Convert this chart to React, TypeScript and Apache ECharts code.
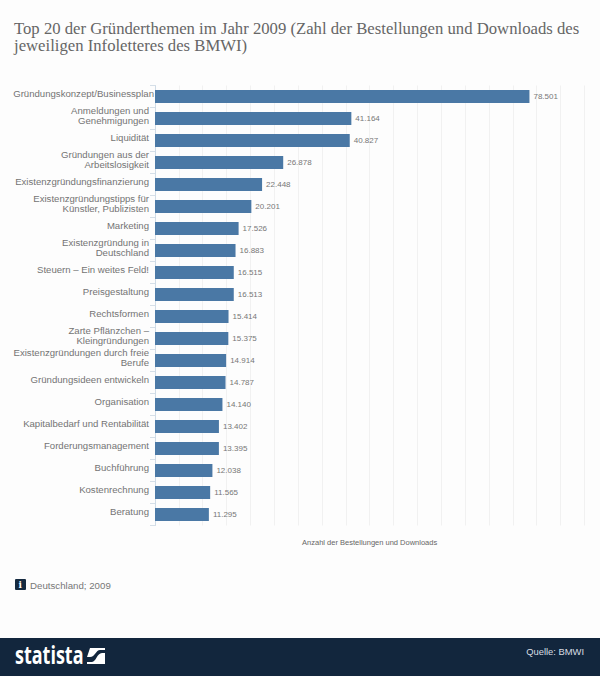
import React, { useEffect, useRef } from "react";
import * as echarts from "echarts";

const categories = [
  "Gründungskonzept/Businessplan",
  "Anmeldungen und\nGenehmigungen",
  "Liquidität",
  "Gründungen aus der\nArbeitslosigkeit",
  "Existenzgründungsfinanzierung",
  "Existenzgründungstipps für\nKünstler, Publizisten",
  "Marketing",
  "Existenzgründung in\nDeutschland",
  "Steuern – Ein weites Feld!",
  "Preisgestaltung",
  "Rechtsformen",
  "Zarte Pflänzchen –\nKleingründungen",
  "Existenzgründungen durch freie\nBerufe",
  "Gründungsideen entwickeln",
  "Organisation",
  "Kapitalbedarf und Rentabilität",
  "Forderungsmanagement",
  "Buchführung",
  "Kostenrechnung",
  "Beratung",
];
const values = [
  78501, 41164, 40827, 26878, 22448, 20201, 17526, 16883, 16515, 16513, 15414,
  15375, 14914, 14787, 14140, 13402, 13395, 12038, 11565, 11295,
];
const titleLines = [
  "Top 20 der Gründerthemen im Jahr 2009 (Zahl der Bestellungen und Downloads des",
  "jeweiligen Infoletteres des BMWI)",
];
const axisName = "Anzahl der Bestellungen und Downloads";
const footnote = "Deutschland; 2009";
const source = "Quelle: BMWI";

const fmt = (v: number) => {
  const s = String(v);
  return s.slice(0, -3) + "." + s.slice(-3);
};

echarts.graphic.registerShape(
  "statistaLogo",
  echarts.graphic.extendPath(
    "M3 0L18 0L18 2L13 2C9 2 8 9 3 9L0 9ZM18 5L18 16L0 16L0 14L5 14C9 14 10 5 15 5Z",
    {}
  ) as any
);

export default function App() {
  const ref = useRef<HTMLDivElement>(null);
  useEffect(() => {
    const chart = echarts.init(ref.current!, null, { renderer: "svg" });
    chart.setOption({
      animation: false,
      backgroundColor: "#fdfdfd",
      grid: { left: 155, top: 85.5, width: 429.3, height: 440, containLabel: false, outerBoundsMode: "none" },
      xAxis: {
        type: "value",
        min: 0,
        max: 90000,
        interval: 5000,
        name: axisName,
        nameLocation: "middle",
        nameGap: 13,
        nameTextStyle: { fontFamily: "Liberation Sans", fontSize: 7.5, color: "#666666" },
        axisLabel: { show: false },
        axisTick: { show: false },
        axisLine: { show: false },
        splitLine: { show: true, lineStyle: { color: "#f1f1f1", width: 1 } },
      },
      yAxis: {
        type: "category",
        inverse: true,
        data: categories,
        axisLine: { show: true, lineStyle: { color: "#cfdbe6", width: 1 } },
        axisTick: { show: true, length: 5, lineStyle: { color: "#d5dfe8" } },
        axisLabel: {
          margin: 1,
          fontFamily: "Liberation Sans",
          fontSize: 9.6,
          color: "#747474",
          lineHeight: 10,
          padding: [0, 0, 7, 0],
          formatter: (v: string, i: number) =>
            i === 0 ? `{f|${v}}` : v.split("\n").map((l) => `{a|${l}}`).join("\n"),
          rich: {
            f: { fontFamily: "Liberation Sans", fontSize: 9.6, color: "#747474", lineHeight: 10 },
            a: { fontFamily: "Liberation Sans", fontSize: 9.6, color: "#747474", lineHeight: 10, padding: [0, 5, 0, 0] },
          },
        },
      },
      series: [
        {
          type: "bar",
          data: values,
          barWidth: 13,
          itemStyle: { color: "#4a78a5" },
          label: {
            show: true,
            position: "right",
            distance: 4,
            fontFamily: "Liberation Sans",
            fontSize: 8,
            color: "#777777",
            formatter: (p: any) => fmt(p.value),
          },
        },
      ],
      graphic: [
        { type: "text", x: 14, y: 20, style: { text: titleLines.join("\n"), font: '16.7px "Liberation Serif"', lineHeight: 17, fill: "#666666" } },
        { type: "rect", shape: { x: 15, y: 579, width: 11, height: 11, r: 1 }, style: { fill: "#152a40" } },
        { type: "text", x: 18.5, y: 580, style: { text: "i", font: 'bold 9px "DejaVu Serif"', fill: "#ffffff" } },
        { type: "text", x: 30, y: 580, style: { text: footnote, font: '9.7px "Liberation Sans"', fill: "#777777" } },
        { type: "rect", shape: { x: 0, y: 638, width: 600, height: 38 }, style: { fill: "#12263d" } },
        { type: "text", x: 15, y: 642, scaleX: 0.72, style: { text: "statista", font: 'bold 25px "Open Sans"', fill: "#ffffff" } },
        { type: "statistaLogo", x: 87, y: 648, style: { fill: "#ffffff" } },
        { type: "text", x: 584, y: 647, style: { text: source, font: '9.4px "Liberation Sans"', fill: "#d8dde3", align: "right" } },
      ],
    });
    return () => chart.dispose();
  }, []);
  return <div ref={ref} style={{ position: "absolute", left: 0, top: 0, width: 600, height: 677 }} />;
}
